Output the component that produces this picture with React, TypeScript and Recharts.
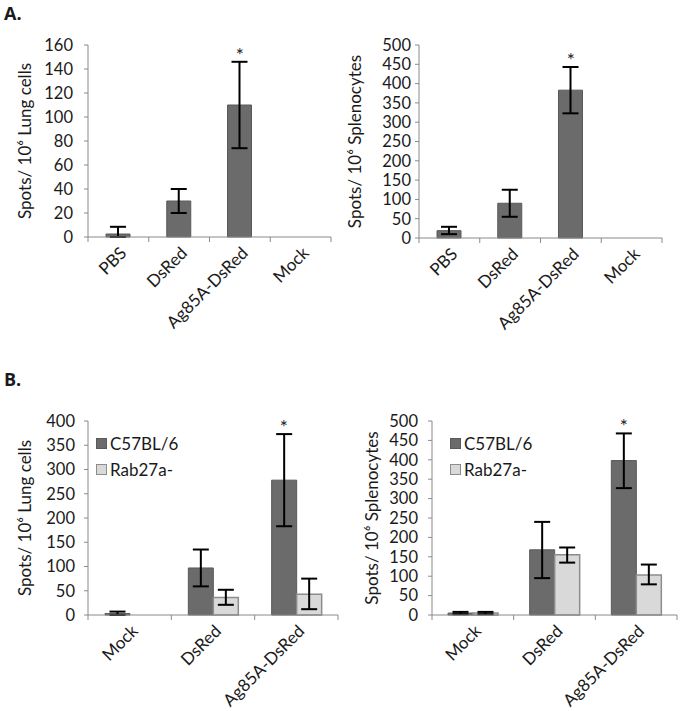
import React from 'react';
import { BarChart, Bar, XAxis, YAxis, ErrorBar, ReferenceDot, Legend } from 'recharts';

// panel A: single series
const groupsA = ['PBS', 'DsRed', 'Ag85A-DsRed', 'Mock'];
const lungA = [2.5, 30, 110, 0];
const lungAErr = [[2.5, 6], [10, 10], [36, 36], null];
const spleenA = [19, 90, 383, 0];
const spleenAErr = [[9, 10], [35, 35], [60, 60], null];

// panel B: C57BL/6 vs Rab27a-
const groupsB = ['Mock', 'DsRed', 'Ag85A-DsRed'];
const lungWt = [3, 97, 278];
const lungWtErr = [[3, 4], [38, 38], [95, 95]];
const lungKo = [0, 36, 43];
const lungKoErr = [null, [15, 16], [31, 32]];
const spleenWt = [5, 168, 398];
const spleenWtErr = [[3, 3], [73, 72], [71, 70]];
const spleenKo = [5, 155, 103];
const spleenKoErr = [[3, 3], [20, 19], [24, 27]];

const ticks160 = [0, 20, 40, 60, 80, 100, 120, 140, 160];
const ticks400 = [0, 50, 100, 150, 200, 250, 300, 350, 400];
const ticks500 = [0, 50, 100, 150, 200, 250, 300, 350, 400, 450, 500];

const DARK = '#6b6b6b';
const LIGHT = '#d9d9d9';
const AXIS = '#8a8a8a';
const TEXT = '#1a1a1a';
const FONT = 'Lato, "Liberation Sans", sans-serif';

const CatTick = (props: any) => {
  const { x, y, payload, index, visibleTicksCount } = props;
  const half = payload.offset ?? 30;
  const tx = x + 5;
  const ty = y + 13;
  return (
    <g>
      <line x1={x - half} x2={x - half} y1={y} y2={y + 5} stroke={AXIS} />
      {index === visibleTicksCount - 1 && (
        <line x1={x + half} x2={x + half} y1={y} y2={y + 5} stroke={AXIS} />
      )}
      <text x={tx} y={ty} dy="0.35em" transform={`rotate(-45 ${tx} ${ty})`} textAnchor="end"
        fontSize={17} fill={TEXT} fontFamily={FONT}>
        {payload.value}
      </text>
    </g>
  );
};

const LegendBox = (props: any) => (
  <div style={{ fontFamily: FONT }}>
    {props.payload.map((p: any) => (
      <div key={p.value} style={{ display: 'flex', alignItems: 'center', height: 26 }}>
        <span style={{ width: 9, height: 9, background: p.payload.fill, border: `1px solid ${p.payload.stroke}`, marginRight: 3 }} />
        <span style={{ fontSize: 17, color: TEXT }}>{p.value}</span>
      </div>
    ))}
  </div>
);

const star = (dx: number) => ({
  content: (p: any) => (
    <text x={p.viewBox.x + p.viewBox.width / 2 + dx} y={p.viewBox.y + 1} textAnchor="middle"
      fontSize={19} fill={TEXT} fontFamily={FONT}>*</text>
  ),
});

function Panel(props: any) {
  const { data, w, h, margin, yWidth, domain, ticks, label, labelX, tickGap, two, starY, legendPos } = props;
  return (
    <BarChart width={w} height={h} data={data} margin={margin} barGap={0}>
      <XAxis dataKey="name" interval={0} axisLine={{ stroke: AXIS }} tickLine={false}
        tickSize={0} tickMargin={0} height={90} tick={<CatTick />} />
      <YAxis type="number" domain={domain} ticks={ticks} interval={0} width={yWidth}
        axisLine={{ stroke: AXIS }} tickLine={{ stroke: AXIS }} tickSize={4} tickMargin={tickGap}
        tick={{ fontSize: 16.5, fill: TEXT, fontFamily: FONT }}
        label={{ value: label, angle: -90, position: 'insideLeft', offset: labelX,
          style: { textAnchor: 'middle', fontSize: 17, fill: TEXT, fontFamily: FONT } }} />
      <Bar dataKey="a" name="C57BL/6" fill={DARK} stroke="#5a5a5a" strokeWidth={1} barSize={two ? 25 : 24} isAnimationActive={false}>
        <ErrorBar dataKey="aErr" width={8} strokeWidth={2} stroke="#000" isAnimationActive={false} />
      </Bar>
      {two && (
        <Bar dataKey="b" name="Rab27a-" fill={LIGHT} stroke="#8c8c8c" strokeWidth={1.5} barSize={25} isAnimationActive={false}>
          <ErrorBar dataKey="bErr" width={8} strokeWidth={2} stroke="#000" isAnimationActive={false} />
        </Bar>
      )}
      <ReferenceDot x="Ag85A-DsRed" y={starY} r={1} fill="none" stroke="none" label={star(two ? -12.5 : 0)} />
      {two && (
        <Legend layout="vertical" align="center" verticalAlign="middle" content={<LegendBox />}
          wrapperStyle={{ left: legendPos[0], top: legendPos[1], width: 'auto' }} />
      )}
    </BarChart>
  );
}

export default function App() {
  const dataA1 = groupsA.map((name, i) => ({ name, a: lungA[i], aErr: lungAErr[i] }));
  const dataA2 = groupsA.map((name, i) => ({ name, a: spleenA[i], aErr: spleenAErr[i] }));
  const dataB1 = groupsB.map((name, i) => ({ name, a: lungWt[i], aErr: lungWtErr[i], b: lungKo[i], bErr: lungKoErr[i] }));
  const dataB2 = groupsB.map((name, i) => ({ name, a: spleenWt[i], aErr: spleenWtErr[i], b: spleenKo[i], bErr: spleenKoErr[i] }));
  const pos = (left: number, top: number): React.CSSProperties => ({ position: 'absolute', left, top });
  return (
    <div style={{ position: 'absolute', left: 0, top: 0, width: 685, height: 711, background: '#fff', fontFamily: FONT }}>
      <div style={{ ...pos(4, 1), fontSize: 18, fontWeight: 700, color: TEXT, fontFamily: '"Open Sans", sans-serif' }}>A.</div>
      <div style={{ ...pos(4, 367), fontSize: 18, fontWeight: 700, color: TEXT, fontFamily: '"Open Sans", sans-serif' }}>B.</div>
      <div style={pos(0, 0)}>
        <Panel data={dataA1} w={340} h={350} margin={{ top: 45, right: 9, bottom: 23, left: 0 }} yWidth={88}
          domain={[0, 160]} ticks={ticks160} label="Spots/ 10⁶ Lung cells" labelX={25} tickGap={11}
          starY={lungA[2] + 36} />
      </div>
      <div style={pos(340, 0)}>
        <Panel data={dataA2} w={345} h={350} margin={{ top: 45, right: 23, bottom: 22, left: 0 }} yWidth={79}
          domain={[0, 500]} ticks={ticks500} label="Spots/ 10⁶ Splenocytes" labelX={15} tickGap={4}
          starY={spleenA[2] + 60} />
      </div>
      <div style={pos(0, 380)}>
        <Panel data={dataB1} w={340} h={331} margin={{ top: 41, right: 2, bottom: 6, left: 0 }} yWidth={88}
          domain={[0, 400]} ticks={ticks400} label="Spots/ 10⁶ Lung cells" labelX={25} tickGap={9}
          starY={lungWt[2] + 95} two legendPos={[96, 50]} />
      </div>
      <div style={pos(340, 380)}>
        <Panel data={dataB2} w={345} h={331} margin={{ top: 41, right: 8, bottom: 6, left: 0 }} yWidth={92}
          domain={[0, 500]} ticks={ticks500} label="Spots/ 10⁶ Splenocytes" labelX={32} tickGap={10}
          starY={spleenWt[2] + 70} two legendPos={[110, 50]} />
      </div>
    </div>
  );
}
